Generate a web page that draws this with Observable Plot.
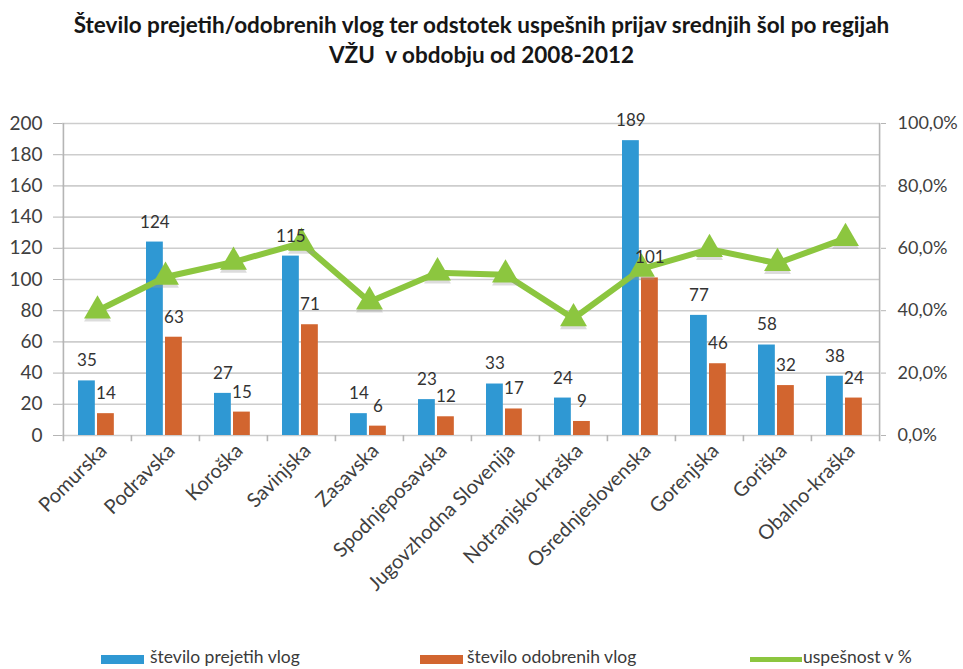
<!DOCTYPE html>
<html><head><meta charset="utf-8">
<script src="https://cdn.jsdelivr.net/npm/d3@7"></script>
<script src="https://cdn.jsdelivr.net/npm/@observablehq/plot@0.6"></script>
<style>
body{margin:0;background:#fff;font-family:Lato,"Open Sans",sans-serif;width:963px;height:669px;overflow:hidden;position:relative}
#title{position:absolute;left:0;top:10px;width:963px;text-align:center;font-weight:bold;font-size:22.5px;line-height:30px;color:#161616;white-space:pre}
#chart{position:absolute;left:0;top:80px}
.sw{position:absolute}
.lt{position:absolute;top:648px;font-size:17.5px;line-height:18px;color:#3a3a3a;white-space:nowrap}
</style></head><body>
<div id="title"></div>
<div id="chart"></div>
<div id="legend"></div>
<script>
const titleLines = ["Število prejetih/odobrenih vlog ter odstotek uspešnih prijav srednjih šol po regijah", "VŽU  v obdobju od 2008-2012"];
const regions = ["Pomurska","Podravska","Koroška","Savinjska","Zasavska","Spodnjeposavska","Jugovzhodna Slovenija","Notranjsko-kraška","Osrednjeslovenska","Gorenjska","Goriška","Obalno-kraška"];
const received = [35,124,27,115,14,23,33,24,189,77,58,38];
const approved = [14,63,15,71,6,12,17,9,101,46,32,24];
const successPct = [40.0,50.8,55.6,61.7,42.9,52.2,51.5,37.5,53.4,59.7,55.2,63.2];
const leftTicks = [0,20,40,60,80,100,120,140,160,180,200];
const rightTicks = [0,40,80,120,160,200];
const rightTickLabels = ["0,0%","20,0%","40,0%","60,0%","80,0%","100,0%"];
const legendLabels = ["število prejetih vlog","število odobrenih vlog","uspešnost v %"];
const colors = {received:"#2f98d3", approved:"#d2652f", pct:"#8cc63f"};

document.getElementById("title").textContent = titleLines.join("\n");

const data = regions.map((r,i)=>({region:r, received:received[i], approved:approved[i], pct:successPct[i]}));

const W = 963, ML = 62, MR = 83;
const half = (W - ML - MR) / regions.length / 2;

const chart = Plot.plot({
  width: W, height: 520,
  marginLeft: ML, marginRight: MR, marginTop: 43, marginBottom: 165,
  x: {domain: regions, padding: 0, axis: null},
  y: {domain: [0,200], axis: null},
  style: {fontFamily: "Lato, 'Open Sans', sans-serif", fontSize: "16px", color: "#404040", background: "transparent", overflow: "visible"},
  marks: [
    Plot.ruleY(leftTicks, {stroke: "#cdcdcd", strokeWidth: 1.6}),
    Plot.ruleX(regions.slice(0,1), {dx: -half, stroke: "#b5b5b5", strokeWidth: 1.6}),
    Plot.ruleX(regions.slice(-1), {dx: half, stroke: "#b5b5b5", strokeWidth: 1.6}),
    Plot.ruleX(regions, {y1: 0, y2: -4, dx: -half, stroke: "#b5b5b5", strokeWidth: 1.6}),
    Plot.ruleX(regions.slice(-1), {y1: 0, y2: -4, dx: half, stroke: "#b5b5b5", strokeWidth: 1.6}),
    Plot.axisY(leftTicks, {anchor: "left", label: null, tickSize: 9, tickPadding: 11, stroke: "#b5b5b5", fill: "#404040", fontSize: 19}),
    Plot.axisY(rightTicks, {anchor: "right", label: null, tickSize: 5, tickPadding: 12, stroke: "#b5b5b5", fill: "#404040", fontSize: 18,
      tickFormat: d => rightTickLabels[rightTicks.indexOf(d)]}),
    Plot.axisX(regions, {anchor: "bottom", label: null, tickSize: 0, tickPadding: 12, tickRotate: -45, dx: 6, fill: "#404040", fontSize: 20}),
    Plot.barY(data, {x: "region", y: "received", fill: colors.received, insetLeft: 15, insetRight: 2*half - 32}),
    Plot.barY(data, {x: "region", y: "approved", fill: colors.approved, insetLeft: 34, insetRight: 2*half - 51}),
    Plot.line(data, {x: "region", y: d => d.pct * 2, stroke: colors.pct, strokeWidth: 6, strokeLinejoin: "round"}),
    Plot.dot(data, {x: "region", y: d => d.pct * 2, symbol: "triangle", r: 10, fill: "#9a9a9a", fillOpacity: 0.35, dy: 3}),
    Plot.dot(data, {x: "region", y: d => d.pct * 2, symbol: "triangle", r: 10, fill: colors.pct}),
    Plot.text(data, {x: "region", y: "received", text: d => String(d.received), dx: -half + 23.5, dy: -20, fill: "#333", fontSize: 17}),
    Plot.text(data, {x: "region", y: "approved", text: d => String(d.approved), dx: -half + 42.5, dy: -20, fill: "#333", fontSize: 17})
  ]
});
document.getElementById("chart").appendChild(chart);

const leg = document.getElementById("legend");
const items = [
  {left: 101, width: 43, top: 655, h: 9, color: colors.received, tx: 150},
  {left: 420, width: 43, top: 655, h: 9, color: colors.approved, tx: 467},
  {left: 750, width: 52, top: 657, h: 5, color: colors.pct, tx: 803}
];
items.forEach((it,i)=>{
  leg.insertAdjacentHTML("beforeend",
    `<div class="sw" style="left:${it.left}px;top:${it.top}px;width:${it.width}px;height:${it.h}px;background:${it.color}"></div>` +
    `<div class="lt" style="left:${it.tx}px">${legendLabels[i]}</div>`);
});
</script>
</body></html>
